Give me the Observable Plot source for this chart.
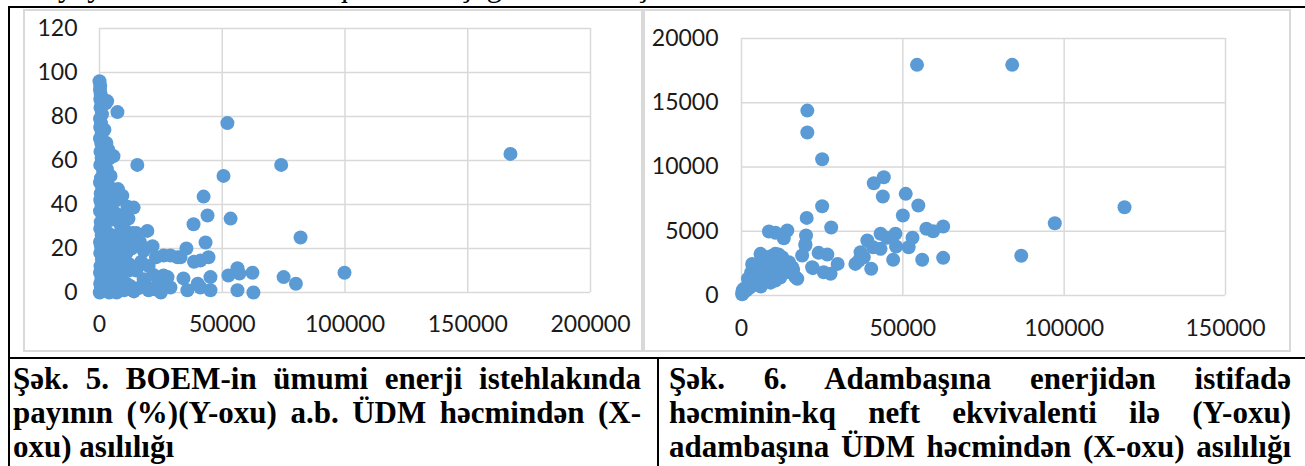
<!DOCTYPE html>
<html>
<head>
<meta charset="utf-8">
<script src="https://cdn.jsdelivr.net/npm/d3@7"></script>
<script src="https://cdn.jsdelivr.net/npm/@observablehq/plot@0.6"></script>
<style>
  html, body { margin: 0; padding: 0; background: #fff; }
  #page { position: relative; width: 1305px; height: 466px; overflow: hidden; background: #fff; }
  .abs { position: absolute; }
  .bl { position: absolute; background: #000; }
  .frame { position: absolute; box-sizing: border-box; border: 2px solid #d9d9d9; }
  .cap { position: absolute; font-family: "Liberation Serif", "Times New Roman", serif; font-weight: bold;
         font-size: 31px; line-height: 34px; color: #000; }
  .cap div { text-align: justify; text-align-last: justify; white-space: normal; }
  .cap div.last { text-align-last: left; }
  .toptext { position: absolute; font-family: "Liberation Serif", serif; font-size: 31px; left: 14px; top: -32px; white-space: nowrap; color:#000; }
</style>
</head>
<body>
<div id="page">
  <div class="toptext">Bu yayılmanı təsvir edən qrafiklər aşağıda verilmişdir.</div>
  <div class="frame" style="left:23px;top:9px;width:620px;height:343px;"></div>
  <div class="frame" style="left:643px;top:9px;width:648px;height:343px;"></div>
  <div id="c1" class="abs" style="left:23px;top:9px;"></div>
  <div id="c2" class="abs" style="left:650px;top:9px;"></div>
  <div class="bl" style="left:8px;top:6px;width:1297px;height:2px;"></div>
  <div class="bl" style="left:8px;top:6px;width:2px;height:460px;"></div>
  <div class="bl" style="left:8px;top:357px;width:1297px;height:2px;"></div>
  <div class="bl" style="left:657px;top:357px;width:2px;height:109px;"></div>
  <div class="cap" style="left:13px;top:362px;width:628px;">
    <div>Şək. 5. BOEM-in ümumi enerji istehlakında</div>
    <div>payının (%)(Y-oxu) a.b. ÜDM həcmindən (X-</div>
    <div class="last">oxu) asılılığı</div>
  </div>
  <div class="cap" style="left:669px;top:362px;width:622px;">
    <div>Şək. 6. Adambaşına enerjidən istifadə</div>
    <div>həcminin-kq neft ekvivalenti ilə (Y-oxu)</div>
    <div>adambaşına ÜDM həcmindən (X-oxu) asılılığı</div>
  </div>
</div>
<script>
// ---- Chart 5: GDP per capita (X) vs share of renewables in total energy consumption, % (Y)
const gdp5 = [
  0,300,200,500,300,800,400,1000,200,600,300,900,200,700,1200,400,900,300,1500,600,200,1100,500,300,800,200,1200,500,300,900,200,600,300,1000,400,200,800,300,600,1200,100,
  3100,2500,2000,2800,3500,5700,4000,3000,4500,2200,3500,4000,2500,5000,3000,4500,2000,3500,5000,4000,2500,5000,3000,4500,2000,3500,5000,4000,
  9300,7000,11400,6500,11800,8500,10000,7000,12000,9000,6500,11000,8000,10500,7000,12000,9000,6500,11000,8000,10000,7000,12500,13500,13000,12000,8000,7500,
  13900,19500,15000,21600,16500,18000,26100,23000,17000,20000,15000,22000,26100,18000,24000,16000,20000,14000,25000,15400,7300,19000,22500,
  28900,33000,27700,28900,34200,35800,41100,45200,35400,38300,42400,44000,53400,43200,44400,41100,45200,52500,56200,57000,62300,56200,62700,50500,52100,74000,75000,80000,81900,99800,167400,31800,38500,40000
];
const share5 = [
  96,94,92,90,88,86,84,81,79,77,75,72,70,68,66,64,61,58,55,52,50,48,45,42,40,37,35,32,29,26,23,21,18,15,12,9,6,4,2,1,0,
  87,86,74,68,65,62,61,56,53,51,49,46,43,40,36,33,30,27,24,20,17,14,11,8,5,3,1,0,
  44,42,39,36,33.6,31,29,26,24,22,20,18,16,14,12,10,8,6,4,2,1,0,3,27,20,13,35,47,
  38.6,28,27,21,23,19,16.8,16,14,12,10,8,7.7,6,4,2,1,0.5,0,58,82,3,1.5,
  16.8,16,7,2.3,6.4,1,2.3,1,20,31,43.6,35,33.6,22.7,16,14.5,7,7.7,11,8.6,9,1,0,53,77,58,7,4,25,9,63,16,14,4
];
// ---- Chart 6: GDP per capita (X) vs energy use per capita, kg oil equivalent (Y)
const gdp6 = [
  83900,54400,118700,97100,86700,20400,20400,25000,25000,20200,27800,20000,19800,18800,23900,26600,29800,22100,25500,27600,16700,
  8500,10500,14200,13100,41000,44100,43800,50900,54800,50000,57300,59400,62500,62500,56000,53000,51800,47900,47000,47700,43100,45100,
  39000,40800,43100,36900,37900,35300,40200,36400,19800,5900,3300,10500,12600,15700,21900,17300,1240,300,5400,10500,7400,12600,5400,8500,14700,
  200,500,800,1000,1500,2000,2500,3000,3500,4000,4500,5000,6000,7000,6500,8000,9000,10000,11000,12000,13000,14000,7500,9500,11500,4000,3000,2000,600,1500,2500,6000,9000,12000,16000
];
const energy6 = [
  17950,17950,6870,5625,3090,14390,12680,10600,6950,6040,5290,4670,3890,3110,3320,3190,2460,2130,1810,1690,1430,
  4980,4880,5060,4460,8740,9200,7700,7910,7000,6220,5190,5000,5370,2930,2780,4490,3760,3810,2780,4800,4800,4490,
  4280,3760,3630,3370,2980,2460,2080,2720,4020,3240,2460,3240,2980,2200,2200,1300,520,350,910,1170,1690,1950,2330,2720,2590,
  100,200,300,450,600,700,900,1100,800,1300,1500,1200,1800,2000,2400,1500,2200,2600,1900,2300,2700,1800,3000,3100,3200,2200,1800,1300,500,400,600,700,1000,1400,2000
];
const xTicks5 = [0, 50000, 100000, 150000, 200000];
const yTicks5 = [0, 20, 40, 60, 80, 100, 120];
const xTicks6 = [0, 50000, 100000, 150000];
const yTicks6 = [0, 5000, 10000, 15000, 20000];

const data5 = gdp5.map((x, i) => ({x, y: share5[i]}));
const data6 = gdp6.map((x, i) => ({x, y: energy6[i]}));

const blue = "#5B9BD5";
const grid = {stroke: "#d9d9d9", strokeOpacity: 1, strokeWidth: 1.5};
const fmt = d => String(d);
const style = {fontFamily: "Lato, 'Open Sans', sans-serif", fontSize: "23px", color: "#1a1a1a", background: "transparent", overflow: "visible"};

function scatter(data, xt, yt, opts) {
  return Plot.plot({
    width: opts.width, height: opts.height,
    marginLeft: opts.ml, marginRight: opts.mr, marginTop: opts.mt, marginBottom: opts.mb,
    style,
    x: {domain: [xt[0], xt[xt.length - 1]], label: null},
    y: {domain: [yt[0], yt[yt.length - 1]], label: null},
    marks: [
      Plot.gridX(xt, grid),
      Plot.gridY(yt, grid),
      Plot.axisX(xt, {tickSize: 0, tickPadding: opts.xpad, tickFormat: fmt, label: null, fill: "#1a1a1a"}),
      Plot.axisY(yt, {tickSize: 0, tickPadding: opts.ypad, tickFormat: fmt, label: null, fill: "#1a1a1a"}),
      Plot.dot(data, {x: "x", y: "y", r: 7, fill: blue, stroke: null})
    ]
  });
}

document.getElementById("c1").append(scatter(data5, xTicks5, yTicks5,
  {width: 619, height: 342, ml: 76, mr: 52, mt: 19, mb: 59, xpad: 23, ypad: 22}));
document.getElementById("c2").append(scatter(data6, xTicks6, yTicks6,
  {width: 640, height: 342, ml: 91, mr: 65, mt: 29, mb: 56, xpad: 24, ypad: 23}));
</script>
</body>
</html>
